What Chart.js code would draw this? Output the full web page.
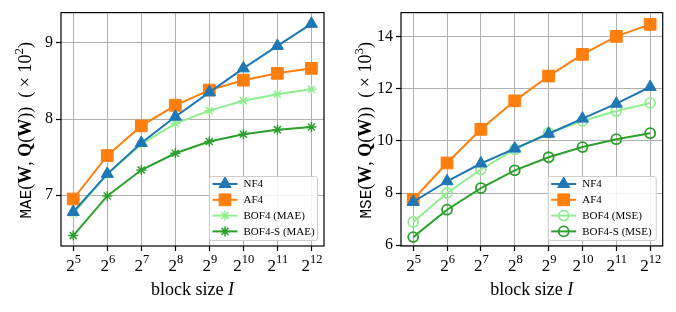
<!DOCTYPE html>
<html>
<head>
<meta charset="utf-8">
<script src="https://cdn.jsdelivr.net/npm/chart.js@4/dist/chart.umd.min.js"></script>
<style>
  html, body { margin: 0; padding: 0; background: #fff; }
  #wrap { display: flex; width: 676px; height: 312px; }
  canvas { display: block; }
</style>
</head>
<body>
<div id="wrap">
  <canvas id="c1" width="340" height="312"></canvas>
  <canvas id="c2" width="336" height="312"></canvas>
</div>
<script>
// ---- data ----
const blockExp = [5, 6, 7, 8, 9, 10, 11, 12];
// tick labels: [base, exponent]
const blockLabels = [['2','5'], ['2','6'], ['2','7'], ['2','8'], ['2','9'], ['2','10'], ['2','11'], ['2','12']];

const maeNF4   = [6.78, 7.28, 7.685, 8.03, 8.35, 8.665, 8.96, 9.25];
const maeAF4   = [6.95, 7.52, 7.91, 8.18, 8.38, 8.51, 8.60, 8.665];
const maeBOF4  = [6.76, 7.27, 7.67, 7.94, 8.11, 8.24, 8.325, 8.39];
const maeBOF4S = [6.47, 6.99, 7.33, 7.55, 7.705, 7.80, 7.86, 7.895];

const mseNF4   = [7.66, 8.45, 9.13, 9.70, 10.27, 10.85, 11.42, 12.06];
const mseAF4   = [7.75, 9.15, 10.44, 11.53, 12.48, 13.31, 14.00, 14.46];
const mseBOF4  = [6.89, 8.00, 8.90, 9.67, 10.30, 10.76, 11.14, 11.45];
const mseBOF4S = [6.31, 7.36, 8.19, 8.87, 9.37, 9.76, 10.06, 10.29];

const maeTicks = [7, 8, 9];
const mseTicks = [6, 8, 10, 12, 14];

const maeNames = ['NF4', 'AF4', 'BOF4 (MAE)', 'BOF4-S (MAE)'];
const mseNames = ['NF4', 'AF4', 'BOF4 (MSE)', 'BOF4-S (MSE)'];

// ---- styling ----
const BLUE = '#1f77b4', ORANGE = '#ff7f0e', LGREEN = '#90ee90', GREEN = '#2ca02c';
const SERIF = '"Liberation Serif", "DejaVu Serif", serif';
const MONO = '"Liberation Mono", "DejaVu Sans Mono", monospace';

function pts(vals) { return blockExp.map((x, i) => ({ x: x, y: vals[i] })); }

function ds(label, vals, color, style, radius, pbw, bg) {
  return {
    label: label, data: pts(vals), borderColor: color, backgroundColor: bg,
    pointBackgroundColor: bg, pointBorderColor: color,
    borderWidth: 2, pointStyle: style, pointRadius: radius, pointHoverRadius: radius,
    pointBorderWidth: pbw, fill: false, tension: 0
  };
}

function drawMarker(ctx, style, r, x, y) {
  ctx.beginPath();
  if (style === 'triangle') {
    ctx.moveTo(x, y - r);
    ctx.lineTo(x + 0.866 * r, y + 0.5 * r);
    ctx.lineTo(x - 0.866 * r, y + 0.5 * r);
    ctx.closePath();
  } else if (style === 'rect') {
    const s = Math.SQRT1_2 * r;
    ctx.rect(x - s, y - s, 2 * s, 2 * s);
  } else if (style === 'star') {
    const d = Math.SQRT1_2 * r;
    ctx.moveTo(x, y - r); ctx.lineTo(x, y + r);
    ctx.moveTo(x - r, y); ctx.lineTo(x + r, y);
    ctx.moveTo(x - d, y - d); ctx.lineTo(x + d, y + d);
    ctx.moveTo(x - d, y + d); ctx.lineTo(x + d, y - d);
  } else {
    ctx.arc(x, y, r, 0, Math.PI * 2);
  }
  ctx.fill();
  ctx.stroke();
}

function drawRich(ctx, segs, x, y) {
  let cx = x;
  for (const s of segs) {
    ctx.font = s.font;
    ctx.fillText(s.t, cx, y + (s.dy || 0));
    cx += ctx.measureText(s.t).width;
  }
}
function richWidth(ctx, segs) {
  let w = 0;
  for (const s of segs) { ctx.font = s.font; w += ctx.measureText(s.t).width; }
  return w;
}

const decorPlugin = {
  id: 'decor',
  afterDraw(chart) {
    const o = chart.options.plugins.decor;
    const ctx = chart.ctx, ca = chart.chartArea;
    ctx.save();
    // frame
    ctx.strokeStyle = '#000'; ctx.lineWidth = 1.2;
    ctx.strokeRect(ca.left, ca.top, ca.right - ca.left, ca.bottom - ca.top);

    ctx.fillStyle = '#000';
    ctx.textBaseline = 'alphabetic';
    ctx.textAlign = 'left';

    // x tick labels (base with superscript exponent)
    const xs = chart.scales.x;
    blockExp.forEach((v, i) => {
      const segs = [
        { t: blockLabels[i][0], font: '17px ' + SERIF },
        { t: blockLabels[i][1], font: '12.5px ' + SERIF, dy: -8.5 }
      ];
      const w = richWidth(ctx, segs);
      drawRich(ctx, segs, xs.getPixelForValue(v) - w / 2 + 0.5, 271);
    });

    // y title (rotated, mixed fonts)
    const f = '18px ' + SERIF, fb = 'bold 18px ' + SERIF;
    const ysegs = [
      { t: o.metric, font: '16px ' + MONO },
      { t: '(', font: f }, { t: 'W', font: fb }, { t: ', ', font: f },
      { t: 'Q', font: fb }, { t: '(', font: f }, { t: 'W', font: fb },
      { t: '))  ( × 10', font: f }, { t: o.exp, font: '13px ' + SERIF, dy: -8 },
      { t: ')', font: f }
    ];
    const yw = richWidth(ctx, ysegs);
    ctx.save();
    ctx.translate(o.titleX, (ca.top + ca.bottom) / 2 + 1);
    ctx.rotate(-Math.PI / 2);
    drawRich(ctx, ysegs, -yw / 2, 0);
    ctx.restore();

    // x title
    const xsegs = [
      { t: 'block size ', font: '18px ' + SERIF },
      { t: 'I', font: 'italic 18px ' + SERIF }
    ];
    const xw = richWidth(ctx, xsegs);
    drawRich(ctx, xsegs, (ca.left + ca.right) / 2 - xw / 2, 295);

    // legend
    const bw = 108, bh = 64;
    const bx = ca.right - 6.5 - bw, by = ca.bottom - 5.5 - bh;
    ctx.fillStyle = 'rgba(255,255,255,0.85)';
    ctx.strokeStyle = '#cccccc'; ctx.lineWidth = 1;
    ctx.beginPath();
    if (ctx.roundRect) ctx.roundRect(bx, by, bw, bh, 2); else ctx.rect(bx, by, bw, bh);
    ctx.fill(); ctx.stroke();
    const dsets = chart.data.datasets;
    for (let i = 0; i < dsets.length; i++) {
      const d = dsets[i];
      const ly = by + 7.5 + i * 15.8;
      ctx.strokeStyle = d.borderColor; ctx.lineWidth = 2;
      ctx.beginPath(); ctx.moveTo(bx + 3, ly); ctx.lineTo(bx + 28, ly); ctx.stroke();
      ctx.fillStyle = d.pointBackgroundColor; ctx.lineWidth = d.pointBorderWidth;
      drawMarker(ctx, d.pointStyle, d.pointRadius, bx + 15.5, ly);
      ctx.fillStyle = '#000';
      ctx.font = '11px ' + SERIF;
      ctx.textBaseline = 'middle';
      ctx.fillText(d.label, bx + 34, ly + 0.5);
      ctx.textBaseline = 'alphabetic';
    }
    ctx.restore();
  }
};

function makeChart(id, datasets, yMin, yMax, yTicks, padRight, metric, exp) {
  return new Chart(document.getElementById(id), {
    type: 'line',
    data: { datasets: datasets },
    options: {
      responsive: false, animation: false, devicePixelRatio: 1,
      layout: { padding: { left: 0, top: 12, right: padRight, bottom: 0 } },
      plugins: {
        legend: { display: false }, tooltip: { enabled: false },
        decor: { metric: metric, exp: exp, titleX: 31 }
      },
      scales: {
        x: {
          type: 'linear', min: 4.64, max: 12.37,
          afterBuildTicks: s => { s.ticks = blockExp.map(v => ({ value: v })); },
          afterFit: s => { s.height = 66; },
          ticks: { display: false },
          grid: { color: '#b0b0b0', lineWidth: 1, tickLength: 5, tickColor: '#000', tickWidth: 1.2, drawTicks: true },
          border: { display: false }
        },
        y: {
          min: yMin, max: yMax,
          afterBuildTicks: s => { s.ticks = yTicks.map(v => ({ value: v })); },
          afterFit: s => { s.width = 61; },
          ticks: { padding: 3, color: '#000', font: { family: SERIF, size: 16 } },
          grid: { color: '#b0b0b0', lineWidth: 1, tickLength: 5, tickColor: '#000', tickWidth: 1.2, drawTicks: true },
          border: { display: false }
        }
      }
    },
    plugins: [decorPlugin]
  });
}

const TRANSP = 'rgba(0,0,0,0)';
makeChart('c1', [
  ds(maeNames[0], maeNF4, BLUE, 'triangle', 7, 1, BLUE),
  ds(maeNames[1], maeAF4, ORANGE, 'rect', 8.3, 1, ORANGE),
  ds(maeNames[2], maeBOF4, LGREEN, 'star', 5, 1.5, LGREEN),
  ds(maeNames[3], maeBOF4S, GREEN, 'star', 5, 1.5, GREEN)
], 6.333, 9.397, maeTicks, 16, 'MAE', '2');

makeChart('c2', [
  ds(mseNames[0], mseNF4, BLUE, 'triangle', 7, 1, BLUE),
  ds(mseNames[1], mseAF4, ORANGE, 'rect', 8.3, 1, ORANGE),
  ds(mseNames[2], mseBOF4, LGREEN, 'circle', 5, 1.8, TRANSP),
  ds(mseNames[3], mseBOF4S, GREEN, 'circle', 5, 1.8, TRANSP)
], 5.97, 14.91, mseTicks, 13.3, 'MSE', '3');
</script>
</body>
</html>
